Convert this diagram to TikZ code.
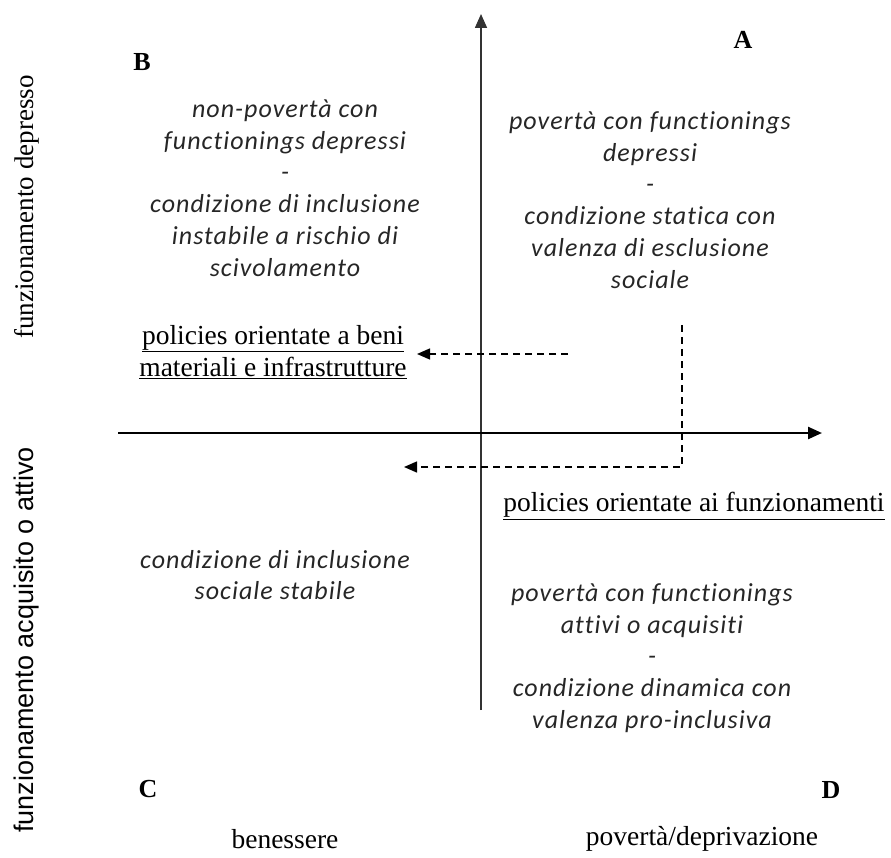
\documentclass[tikz,border=0pt]{standalone}
\usepackage{fontspec}
\setmainfont{Liberation Serif}
\newfontfamily\quadfont[LetterSpace=4,Ligatures=NoCommon]{Carlito}
\newfontfamily\axsans{Liberation Sans}
\usetikzlibrary{arrows.meta}
\tikzset{
  axis/.style={line width=2pt,-{Triangle[length=14pt,width=12pt]}},
  hint/.style={line width=1.4pt,dash pattern=on 7pt off 5pt},
  quad/.style={align=center,font=\quadfont\itshape\fontsize{26}{31.8}\selectfont,text=black!85},
  corner/.style={font=\bfseries\fontsize{26}{28}\selectfont},
  pol/.style={align=center,font=\fontsize{27.5}{32}\selectfont},
  side/.style={rotate=90,font=\fontsize{27}{28}\selectfont},
}

\begin{document}
\begin{tikzpicture}[x=1pt,y=-1pt]
      \useasboundingbox (0,0) rectangle (891,858);

      % axes
      \coordinate (vbot) at (481,710);
      \coordinate (vtop) at (481,14);
      \coordinate (hleft) at (118,433);
      \coordinate (hright) at (822,433);
      \draw[axis,line width=1.6pt,draw=black!80] (vbot) -- (vtop);
      \draw[axis,line width=2.4pt] (hleft) -- (hright);

      % corner letters
      \node[corner] (qA) at (743,40) {A};
      \node[corner] (qB) at (142,62) {B};
      \node[corner] (qC) at (148,789) {C};
      \node[corner] (qD) at (831,790) {D};

      % quadrant texts
      \node[quad] (txtB) at (285,188) {non-povertà con\\functionings depressi\\-\\condizione di inclusione\\instabile a rischio di\\scivolamento};
      \node[quad] (txtA) at (650,200) {povertà con functionings\\depressi\\-\\condizione statica con\\valenza di esclusione\\sociale};
      \node[quad] (txtC) at (275,575) {condizione di inclusione\\sociale stabile};
      \node[quad] (txtD) at (652,658) {povertà con functionings\\attivi o acquisiti\\-\\condizione dinamica con\\valenza pro-inclusiva};

      % policies
      \node[pol] (beni) at (273,352) {\underline{policies orientate a beni}\\\underline{materiali e infrastrutture}};
      \node[pol] (funz) at (694,506) {\underline{policies orientate ai funzionamenti}};

      % dashed hints
      \coordinate (d1) at (568,354);
      \coordinate (d1end) at (417,354);
      \draw[hint,-{Triangle[length=13pt,width=11pt]}] (d1) -- (d1end);
      \coordinate (d2) at (682,325);
      \coordinate (d2end) at (404,467);
      \draw[hint,-{Triangle[length=13pt,width=11pt]}] (d2) |- (d2end);

      % side labels
      \node[side] (dep) at (27,207) {funzionamento depresso};
      \node[side,font=\axsans\fontsize{27}{28}\selectfont] (att) at (27,640) {funzionamento acquisito o attivo};

      % bottom labels
      \node[pol] (ben) at (285,839) {benessere};
      \node[pol] (pov) at (702,839) {povertà/deprivazione};
    \end{tikzpicture}
\end{document}
